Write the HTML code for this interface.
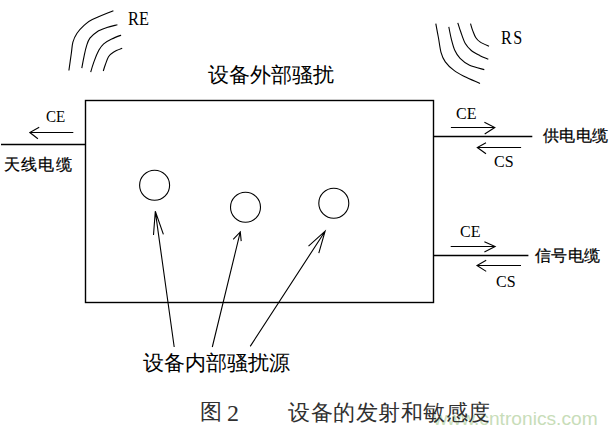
<!DOCTYPE html>
<html><head><meta charset="utf-8">
<style>
html,body{margin:0;padding:0;background:#fff;width:616px;height:433px;overflow:hidden;}
body{position:relative;}
svg{position:absolute;left:0;top:0;}
.t{position:absolute;white-space:nowrap;line-height:1;color:#000;}
.cn{font-family:"Liberation Sans",sans-serif;}
.lb{-webkit-text-stroke:0.25px #000;}
.cap{color:#303030;}
.en{font-family:"Liberation Serif",serif;}
</style></head><body>
<svg width="616" height="433" viewBox="0 0 616 433" fill="none" stroke="#000" stroke-width="1.1" stroke-linecap="butt">
  <rect x="85.5" y="100.5" width="348" height="202" stroke-width="1.4"/>
  <line x1="1" y1="144.5" x2="86" y2="144.5" stroke-width="1.4"/>
  <path d="M73.3 132.5 H29.8 M39.2 127.2 L29.8 132.5 L37.9 138.8"/>
  <line x1="433" y1="136.5" x2="532.3" y2="136.5" stroke-width="1.4"/>
  <path d="M450.9 127.5 H494.8 M484.4 122.2 L494.8 127.5 L484.7 134"/>
  <path d="M521.1 147.5 H477.3 M486 142.7 L477.3 147.5 L486 153.8"/>
  <line x1="433" y1="255.5" x2="528.4" y2="255.5" stroke-width="1.4"/>
  <path d="M450.7 246.5 H495.1 M484.4 241.8 L495.1 246.5 L484.4 252"/>
  <path d="M521 265.5 H477 M486.2 260.3 L477 265.5 L486.2 271.4"/>
  <circle cx="154.6" cy="185.3" r="15"/>
  <circle cx="245.5" cy="207.3" r="15"/>
  <circle cx="333.8" cy="203.2" r="15"/>
  <path d="M174.2 347 L155.3 211.3 M153.5 235 L155.3 211.3 L163.4 234.4"/>
  <path d="M212.3 347 L240.3 231.9 M233.2 239.3 L240.3 231.9 L241.2 241.1"/>
  <path d="M250.2 346.4 L325.1 231.2 M308.5 246.2 L325.1 231.2 L318.8 253.1"/>
  <path class="arc" d="M68.9 70.5 C69.3 67.7 70.6 58.2 71.3 53.5 C72.0 48.8 72.0 45.6 72.9 42.2 C73.9 38.8 75.1 36.1 77.0 33.3 C78.9 30.5 81.8 27.5 84.3 25.2 C86.8 22.9 87.4 22.0 92.3 19.6 C97.2 17.2 109.9 12.2 113.4 10.7"/>
  <path class="arc" d="M81.8 68.1 C82.2 65.9 83.5 58.9 84.3 55.1 C85.1 51.3 85.8 48.2 86.7 45.4 C87.6 42.6 88.2 40.4 89.9 38.1 C91.7 35.8 94.4 33.5 97.2 31.7 C100.0 29.9 103.5 28.8 106.9 27.6 C110.3 26.4 115.7 25.2 117.4 24.7"/>
  <path class="arc" d="M90.7 72.1 C91.2 70.3 92.7 65.2 94.0 61.6 C95.3 58.0 97.2 53.3 98.8 50.3 C100.4 47.3 101.5 45.7 103.7 43.8 C105.9 41.9 108.8 40.4 111.7 39.0 C114.6 37.6 119.5 35.8 121.1 35.2"/>
  <path class="arc" d="M103.3 71.0 C103.6 70.0 104.4 67.2 105.3 64.8 C106.2 62.4 107.2 58.8 108.5 56.7 C109.8 54.6 111.1 53.6 113.4 52.2 C115.7 50.8 120.7 48.9 122.2 48.3"/>
  <path class="arc" d="M435.8 23.7 C436.2 26.0 437.5 32.7 438.4 37.5 C439.3 42.3 439.9 48.2 441.0 52.3 C442.1 56.3 443.1 58.8 445.3 61.8 C447.5 64.8 450.8 68.0 454.0 70.4 C457.2 72.9 460.1 74.3 464.4 76.5 C468.7 78.7 477.4 82.2 480.0 83.4"/>
  <path class="arc" d="M448.8 26.8 C449.2 28.9 450.4 35.3 451.4 39.3 C452.4 43.2 453.4 47.3 454.9 50.5 C456.3 53.7 457.7 55.8 460.1 58.3 C462.6 60.8 465.6 63.4 469.6 65.3 C473.6 67.2 481.9 68.9 484.3 69.6"/>
  <path class="arc" d="M457.8 22.8 C458.3 24.4 459.6 28.8 460.9 32.3 C462.1 35.8 463.6 40.6 465.3 43.6 C467.0 46.6 468.9 48.5 471.3 50.5 C473.8 52.5 477.2 54.2 480.0 55.7 C482.8 57.2 486.9 58.6 488.3 59.2"/>
  <path class="arc" d="M470.5 23.7 C470.9 24.9 471.8 28.3 472.7 30.6 C473.6 32.9 474.5 35.6 475.7 37.5 C476.9 39.4 477.8 40.4 480.0 41.9 C482.2 43.4 487.5 45.5 489.0 46.2"/>
</svg>
<div class="t" style="left:433.5px;top:409px;font-size:19.2px;font-family:'Liberation Sans',sans-serif;color:#c8ddb9;">www.cntronics.com</div>
<div class="t en" style="left:128px;top:9px;font-size:19px;transform:scaleX(0.86);transform-origin:0 0;">RE</div>
<div class="t en" style="left:501px;top:28.3px;font-size:19px;letter-spacing:1.6px;transform:scaleX(0.85);transform-origin:0 0;">RS</div>
<div class="t cn" style="left:208px;top:64px;font-size:21px;">设备外部骚扰</div>
<div class="t en" style="left:46px;top:109px;font-size:16px;transform:scaleX(0.94);transform-origin:0 0;">CE</div>
<div class="t cn lb" style="left:4px;top:157px;font-size:16px;letter-spacing:1.2px;">天线电缆</div>
<div class="t en" style="left:456px;top:106px;font-size:16px;">CE</div>
<div class="t en" style="left:494px;top:154px;font-size:16px;">CS</div>
<div class="t cn lb" style="left:543px;top:128px;font-size:16px;letter-spacing:0.4px;">供电电缆</div>
<div class="t en" style="left:460px;top:224px;font-size:16px;">CE</div>
<div class="t en" style="left:496px;top:274px;font-size:16px;">CS</div>
<div class="t cn lb" style="left:535px;top:248px;font-size:16px;letter-spacing:0.3px;">信号电缆</div>
<div class="t cn" style="left:143px;top:352px;font-size:21px;">设备内部骚扰源</div>
<div class="t cn cap" style="left:200px;top:401px;font-size:22px;">图</div>
<div class="t en cap" style="left:227px;top:401px;font-size:24px;">2</div>
<div class="t cn cap" style="left:288px;top:402px;font-size:22.3px;letter-spacing:0.5px;">设备的发射和敏感度</div>
</body></html>
